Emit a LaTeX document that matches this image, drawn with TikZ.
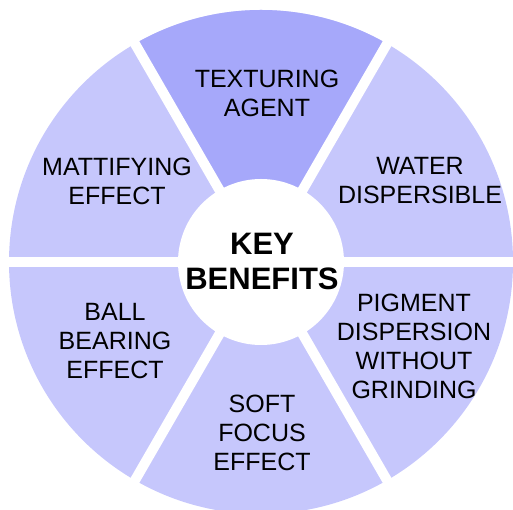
\documentclass[tikz,border=0pt]{standalone}
\usepackage{fontspec}
\setmainfont{Liberation Sans}
\definecolor{sectordark}{RGB}{166,168,250}
\definecolor{sectorlight}{RGB}{198,199,252}
\begin{document}
\begin{tikzpicture}[x=1pt, y=1pt,
		benefit/.style={align=center, font=\fontsize{25}{29}\selectfont},
		keytext/.style={align=center, font=\fontsize{31}{35}\selectfont\bfseries}]
		\useasboundingbox (0,0) rectangle (513,510);
		%wheel
		\coordinate (c) at (261,248);
		\fill[sectorlight] (c) circle (252);
		\fill[sectordark] (c) -- ++(60:252) arc (60:120:252) -- cycle;
		\foreach \a in {0,60,...,300}{
			\draw[white, line width=10pt] (c) -- ++(\a:262);
		}
		\fill[white] (c) circle (83);
		
		%labels
		\node (key) at (262, 249) [keytext]{KEY\\BENEFITS};
		\node (texturing) at (267, 417) [benefit]{TEXTURING\\AGENT};
		\node (water) at (420, 329) [benefit]{WATER\\DISPERSIBLE};
		\node (pigment) at (414, 164) [benefit]{PIGMENT\\DISPERSION\\WITHOUT\\GRINDING};
		\node (soft) at (262, 77) [benefit]{SOFT\\FOCUS\\EFFECT};
		\node (ball) at (115, 169) [benefit]{BALL\\BEARING\\EFFECT};
		\node (mattifying) at (117, 329) [benefit]{MATTIFYING\\EFFECT};
\end{tikzpicture}
\end{document}
